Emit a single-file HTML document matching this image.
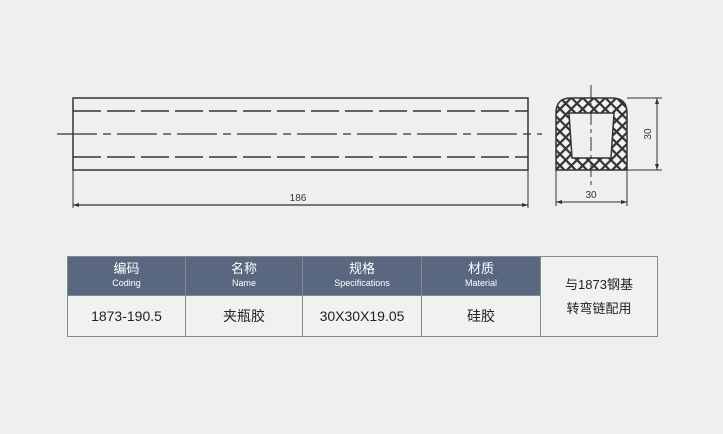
<!DOCTYPE html>
<html><head><meta charset="utf-8"><style>
body{margin:0;width:723px;height:434px;background:#eef0ee;position:relative;overflow:hidden;font-family:"Liberation Sans","Noto Sans CJK SC",sans-serif}
table{position:absolute;left:67px;top:256px;border-collapse:collapse;width:591px}
td{border:1.5px solid #858a8a;text-align:center;padding:0;color:#222}
.h td{background:#5a6781;color:#fff;height:38px;font-size:13px;line-height:14px}
.h td small{font-size:9px;display:block}
.b td{height:40px;font-size:14px;background:#f0f2f0}
.n{background:#f0f2f0!important;color:#222!important;font-size:13px!important;line-height:24px!important}
</style></head><body>
<svg width="723" height="434" style="position:absolute;left:0;top:0">
<defs><pattern id="hp" width="8" height="8" patternUnits="userSpaceOnUse" patternTransform="rotate(45)">
<rect width="8" height="8" fill="#f2f2f2"/><rect width="8" height="2.2" fill="#333"/><rect width="2.2" height="8" fill="#333"/></pattern></defs>
<g stroke="#333" fill="none">
<rect x="73" y="98" width="455" height="72" stroke-width="1.5"/>
<line x1="73" y1="111" x2="528" y2="111" stroke-width="1.5" stroke-dasharray="28,6"/>
<line x1="73" y1="157" x2="528" y2="157" stroke-width="1.5" stroke-dasharray="28,6"/>
<line x1="57" y1="134" x2="542" y2="134" stroke-width="1.2" stroke-dasharray="40,6,8,6"/>
<line x1="73" y1="170" x2="73" y2="208" stroke-width="1"/>
<line x1="528" y1="170" x2="528" y2="208" stroke-width="1"/>
<line x1="73" y1="205" x2="528" y2="205" stroke-width="1.2"/>
<path d="M556 170 V113 Q556 98 571 98 H612 Q627 98 627 113 V170 Z" fill="url(#hp)" stroke-width="1.5"/>
<path d="M569 113 H614 L611 158 H572 Z" fill="#eef0ee" stroke-width="1.5"/>
<line x1="591" y1="85" x2="591" y2="186" stroke-width="1" stroke-dasharray="14,4,4,4"/>
<line x1="627" y1="98" x2="662" y2="98" stroke-width="1"/>
<line x1="627" y1="170" x2="662" y2="170" stroke-width="1"/>
<line x1="657" y1="98" x2="657" y2="170" stroke-width="1"/>
<line x1="556" y1="170" x2="556" y2="206" stroke-width="1"/>
<line x1="627" y1="170" x2="627" y2="206" stroke-width="1"/>
<line x1="556" y1="202" x2="627" y2="202" stroke-width="1"/>
</g>
<g fill="#333"><path d="M73 205 l6 -2 v4z"/><path d="M528 205 l-6 -2 v4z"/>
<path d="M657 98 l-2 6 h4z"/><path d="M657 170 l-2 -6 h4z"/>
<path d="M556 202 l6 -2 v4z"/><path d="M627 202 l-6 -2 v4z"/></g>
<g font-family="Liberation Sans" font-size="10" fill="#333" text-anchor="middle">
<text x="298" y="201">186</text><text x="591" y="198">30</text>
<text transform="translate(651,134) rotate(-90)">30</text></g>
</svg>
<table>
<tr class="h"><td style="width:117px">编码<small>Coding</small></td><td style="width:116px">名称<small>Name</small></td><td style="width:118px">规格<small>Specifications</small></td><td style="width:118px">材质<small>Material</small></td><td class="n" rowspan="2">与1873钢基<br>转弯链配用</td></tr>
<tr class="b"><td>1873-190.5</td><td>夹瓶胶</td><td>30X30X19.05</td><td>硅胶</td></tr>
</table>
</body></html>
